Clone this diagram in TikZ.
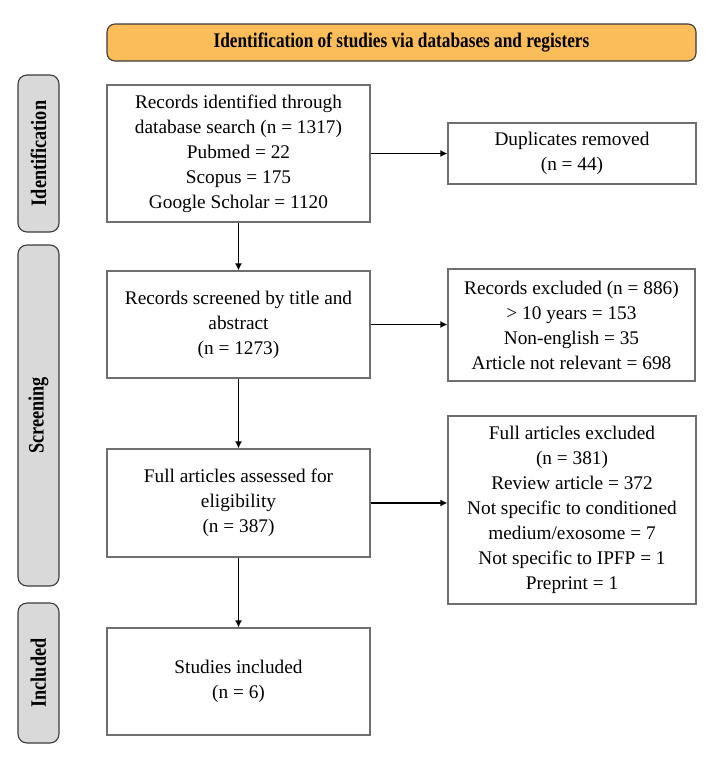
\documentclass[tikz,border=0pt]{standalone}
\usepackage{fontspec}
\setmainfont{Liberation Serif}
\newfontfamily\condbf[FakeStretch=0.83]{Liberation Serif}
\usetikzlibrary{arrows.meta}
\definecolor{hdrfill}{RGB}{251,188,90}
\definecolor{sidefill}{RGB}{217,217,217}
\definecolor{boxline}{RGB}{110,110,110}
\definecolor{darkline}{RGB}{60,60,60}
\tikzset{
  flowbox/.style={draw=boxline, line width=1.2pt, fill=white, inner sep=0pt, align=center,
    font=\fontsize{19.3}{25}\selectfont},
  sidebox/.style={draw=darkline, line width=1.1pt, fill=sidefill, rounded corners=9pt, inner sep=0pt},
  sidelabel/.style={rotate=90, font=\condbf\bfseries\fontsize{22}{24}\selectfont, inner sep=0pt},
  hdrbox/.style={draw=darkline, line width=1.1pt, fill=hdrfill, rounded corners=8pt, inner sep=0pt,
    font=\condbf\bfseries\fontsize{20.8}{24}\selectfont},
  flowarrow/.style={-{Latex[length=7pt,width=7pt]}, line width=1.9pt, black},
}
\begin{document}
\begin{tikzpicture}[x=1pt,y=-1pt]
\useasboundingbox (0,0) rectangle (715,771);
% header
\node[hdrbox, minimum width=589pt, minimum height=37pt] (hdr) at (401.5,42.5)
  {Identification of studies via databases and registers};
% side boxes
\node[sidebox, minimum width=41pt, minimum height=157pt] (sideA) at (38.5,153.5) {};
\node[sidelabel] (labA) at (sideA.center) {Identification};
\node[sidebox, minimum width=41pt, minimum height=341pt] (sideB) at (38.5,415.5) {};
\node[sidelabel] (labB) at (sideB.center) {Screening};
\node[sidebox, minimum width=41pt, minimum height=140pt] (sideC) at (38.5,673) {};
\node[sidelabel] (labC) at (sideC.center) {Included};
% main boxes
\node[flowbox, minimum width=263pt, minimum height=137pt] (b1) at (238.5,153.5)
  {Records identified through\\database search (n = 1317)\\Pubmed = 22\\Scopus = 175\\Google Scholar = 1120};
\node[flowbox, minimum width=248pt, minimum height=61pt] (dup) at (572,153.5)
  {Duplicates removed\\(n = 44)};
\node[flowbox, minimum width=263pt, minimum height=107pt] (b2) at (238.5,324.5)
  {Records screened by title and\\abstract\\(n = 1273)};
\node[flowbox, minimum width=247pt, minimum height=112pt] (ex1) at (571.5,325)
  {Records excluded (n = 886)\\> 10 years = 153\\Non-english = 35\\Article not relevant = 698};
\node[flowbox, minimum width=263pt, minimum height=108pt] (b3) at (238.5,503)
  {Full articles assessed for\\eligibility\\(n = 387)};
\node[flowbox, minimum width=248pt, minimum height=188pt] (ex2) at (572,510)
  {Full articles excluded\\(n = 381)\\Review article = 372\\Not specific to conditioned\\medium/exosome = 7\\Not specific to IPFP = 1\\Preprint = 1};
\node[flowbox, minimum width=263pt, minimum height=107pt] (b4) at (238.5,681.5)
  {Studies included\\(n = 6)};
% arrows
\draw[flowarrow] (b1.east) -- (dup.west);
\draw[flowarrow] (b1.south) -- (b2.north);
\draw[flowarrow] (b2.east) -- (b2.east -| ex1.west);
\draw[flowarrow] (b2.south) -- (b3.north);
\draw[flowarrow] (b3.east) -- (b3.east -| ex2.west);
\draw[flowarrow] (b3.south) -- (b4.north);
\end{tikzpicture}
\end{document}
